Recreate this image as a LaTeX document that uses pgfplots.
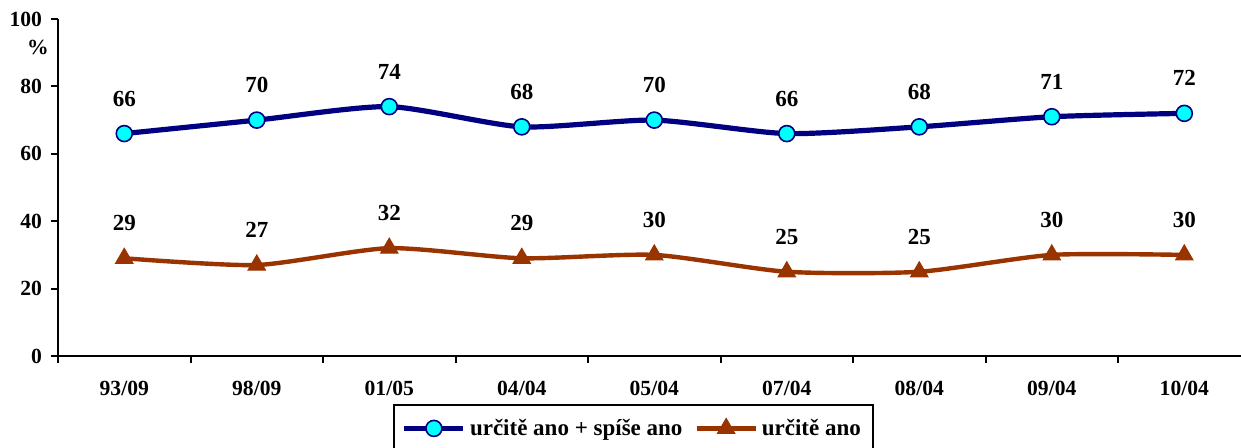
\documentclass[border=0pt]{standalone}
\usepackage{fontspec}
\setmainfont{Liberation Serif}
\usepackage{pgfplots}
\pgfplotsset{compat=1.18}
\definecolor{navyl}{RGB}{0,0,128}
\definecolor{cyanm}{RGB}{0,255,255}
\definecolor{brownl}{RGB}{153,51,0}
\begin{document}
\begin{tikzpicture}
\begin{axis}[
  at={(29pt,45.5pt)}, anchor=south west,
  scale only axis, width=591.5pt, height=168.5pt,
  xmin=-0.5, xmax=8.428, ymin=0, ymax=100,
  axis lines=left, axis line style={-, line width=1pt, black},
  ytick={0,20,...,100},
  xtick={-0.5,0.5,...,7.5},
  xticklabels={93/09,98/09,01/05,04/04,05/04,07/04,08/04,09/04,10/04},
  xticklabel style={xshift=33.125pt, yshift=-5.5pt},
  yticklabel style={xshift=-1pt},
  tick align=outside, major tick length=3.5pt,
  tick style={line width=1pt, black},
  ticklabel style={font=\fontsize{10.8}{12}\selectfont\bfseries},
  /pgf/number format/assume math mode=true,
  ylabel={\textbf{\%}},
  ylabel style={rotate=-90, at={(axis description cs:0,0.917)}, anchor=center, xshift=-10pt, font=\fontsize{10.8}{12}\selectfont\bfseries},
  clip=false,
  nodes near coords,
  every node near coord/.append style={font=\fontsize{11.5}{13}\selectfont\bfseries, black, anchor=center, yshift=17.5pt},
  legend style={at={(0.2832,-0.1424)}, anchor=north west, legend columns=2, draw=black, line width=0.8pt,
    font=\fontsize{11.5}{14}\selectfont\bfseries, inner xsep=4pt, inner ysep=5pt,
    /tikz/every even column/.append style={column sep=4pt}},
  legend image code/.code={\draw[mark repeat=2,mark phase=2,#1] plot coordinates {(0pt,0pt) (14.75pt,0pt) (29.5pt,0pt)};},
]
\addplot[navyl, line width=2.6pt, smooth, tension=0.4, mark=*, mark size=4pt, mark options={fill=cyanm, draw=navyl, line width=0.8pt}]
  coordinates {(0,66) (1,70) (2,74) (3,68) (4,70) (5,66) (6,68) (7,71) (8,72)};
\addlegendentry{určitě ano + spíše ano}
\addplot[brownl, line width=2.2pt, smooth, tension=0.4, mark=triangle*, mark size=5pt, mark options={fill=brownl, draw=brownl, line width=0.5pt}]
  coordinates {(0,29) (1,27) (2,32) (3,29) (4,30) (5,25) (6,25) (7,30) (8,30)};
\addlegendentry{určitě ano}
\end{axis}
\pgfresetboundingbox
\path[use as bounding box] (0,0) rectangle (620.5pt,223.5pt);
\end{tikzpicture}
\end{document}
